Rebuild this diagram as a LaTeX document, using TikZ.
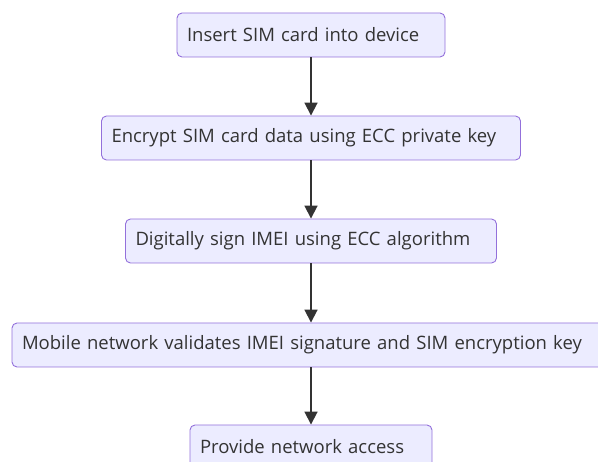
\documentclass[tikz,border=0pt]{standalone}
\usepackage{fontspec}
\setmainfont{Open Sans}
\usetikzlibrary{arrows.meta, positioning}
\definecolor{boxfill}{HTML}{ECECFF}
\definecolor{boxline}{HTML}{9370DB}
\definecolor{inkgray}{HTML}{333333}

\begin{document}
\begin{tikzpicture}[x=1pt, y=-1pt,
    box/.style={draw=boxline, fill=boxfill, rounded corners=5pt, line width=0.9pt,
        minimum height=44pt, inner xsep=10pt, inner ysep=0pt, align=left,
        text=inkgray, font=\fontsize{18.5}{22}\selectfont},
    flow/.style={-{Triangle[length=13pt, width=13pt]}, draw=inkgray, line width=1.8pt}]
    \path[use as bounding box, clip] (0,0) rectangle (598,462);

    \node[box, text width=248pt] (s1) at (311, 35) {Insert SIM card into device};
    \node[box, text width=399pt] (s2) at (311, 138) {Encrypt SIM card data using ECC private key};
    \node[box, text width=351pt] (s3) at (311, 241) {Digitally sign IMEI using ECC algorithm};
    \node[box, text width=578pt] (s4) at (311, 345) {Mobile network validates IMEI signature and SIM encryption key};
    \node[box, text width=222pt] (s5) at (311, 447) {Provide network access};

    \draw[flow] (s1) -- (s2);
    \draw[flow] (s2) -- (s3);
    \draw[flow] (s3) -- (s4);
    \draw[flow] (s4) -- (s5);
\end{tikzpicture}
\end{document}
